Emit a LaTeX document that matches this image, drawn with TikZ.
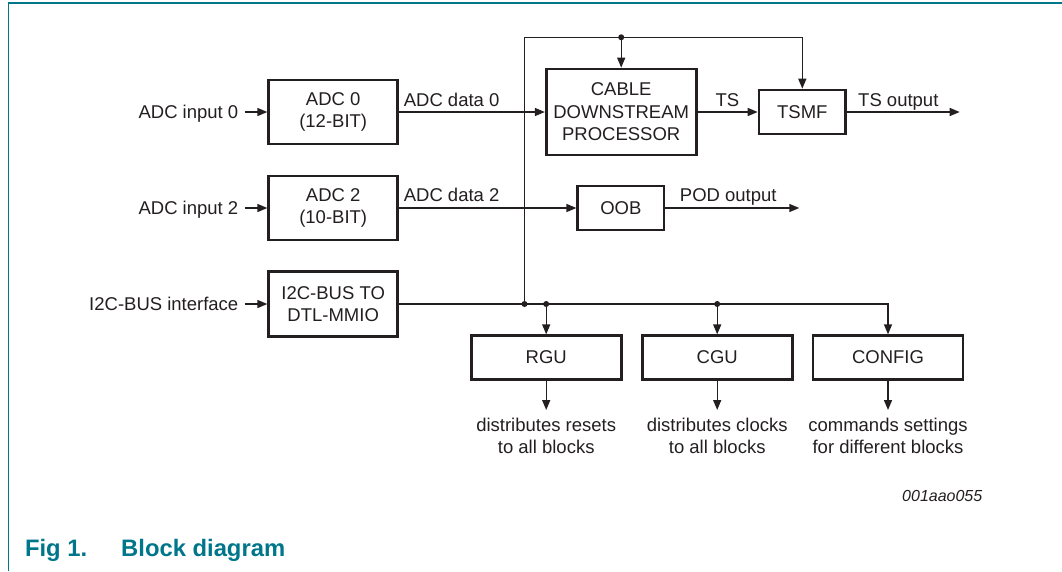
\documentclass[tikz,border=0pt]{standalone}
\usepackage{fontspec}
\setmainfont{Liberation Sans}
\usetikzlibrary{arrows.meta}
\definecolor{teal1}{RGB}{0,118,138}
\definecolor{ink}{RGB}{35,31,32}
\begin{document}
\begin{tikzpicture}[x=1pt,y=-1pt,
  font=\fontsize{18.5}{22.4}\selectfont,
  every node/.style={text=ink},
  blk/.style={draw=ink, line width=2.7pt, align=center, inner sep=0pt},
  conn/.style={draw=ink, line width=1.4pt},
  arr/.style={conn, -{Triangle[length=10pt,width=8pt]}},
  lbl/.style={inner sep=0pt, text height=13.3pt, text depth=0pt},
  inlbl/.style={lbl, anchor=east, inner xsep=6pt},
  txt/.style={anchor=base west, inner sep=0pt},
  desc/.style={align=center, inner sep=0pt, anchor=north},
  dot/.style={circle, fill=ink, inner sep=0pt, minimum size=6pt},
  captionstyle/.style={anchor=base west, inner sep=0pt, text=teal1, font=\fontsize{23.8}{28}\selectfont\bfseries},
]
\useasboundingbox (0,0) rectangle (1062,571);
\draw[teal1, line width=1.6pt] (8.3,571) -- (8.3,2.7) -- (1062,2.7);

% blocks
\node[blk, minimum width=129pt, minimum height=64pt] (adc0) at (333.2,112) {ADC 0\\(12-BIT)};
\node[blk, minimum width=129pt, minimum height=64pt] (adc2) at (333.2,208) {ADC 2\\(10-BIT)};
\node[blk, minimum width=129pt, minimum height=65pt] (i2c) at (333.2,304) {I2C-BUS TO\\DTL-MMIO};
\node[blk, minimum width=150pt, minimum height=86pt] (cdp) at (621.2,112) {CABLE\\DOWNSTREAM\\PROCESSOR};
\node[blk, minimum width=86.6pt, minimum height=44pt] (tsmf) at (802.3,112) {TSMF};
\node[blk, minimum width=86.3pt, minimum height=44pt] (oob) at (620.9,208) {OOB};
\node[blk, minimum width=150pt, minimum height=43.6pt] (rgu) at (546.2,357.5) {RGU};
\node[blk, minimum width=150pt, minimum height=43.6pt] (cgu) at (717.2,357.5) {CGU};
\node[blk, minimum width=150pt, minimum height=43.6pt] (config) at (888,357.5) {CONFIG};

% input labels
\node[inlbl] (in0) at (244.5,112) {ADC input 0};
\node[inlbl] (in2) at (244.5,208) {ADC input 2};
\node[inlbl] (ini2c) at (244.5,304) {I2C-BUS interface};

% coordinates
\coordinate (j0) at (524.5,304);
\coordinate (j1) at (546.2,304);
\coordinate (j2) at (717.2,304);
\coordinate (jc) at (888,304);
\coordinate (tl) at (524.5,37.3);
\coordinate (jt) at (621.2,37.3);
\coordinate (tr) at (802.3,37.3);
\coordinate (tsout) at (959.7,112);
\coordinate (podout) at (799.3,208);

% connectors
\draw[arr] (in0.east) -- (in0.east -| adc0.west);
\draw[arr] (in2.east) -- (in2.east -| adc2.west);
\draw[arr] (ini2c.east) -- (ini2c.east -| i2c.west);
\draw[arr] (adc0) -- (cdp);
\draw[arr] (adc2) -- (oob);
\draw[arr] (cdp) -- (tsmf);
\draw[arr] (tsmf) -- (tsout);
\draw[arr] (oob) -- (podout);
\draw[arr] (i2c.east) -- (jc) -- (config.north);
\draw[arr] (j0) -- (tl) -- (tr) -- (tsmf.north);
\draw[arr] (jt) -- (cdp.north);
\draw[arr] (j1) -- (rgu.north);
\draw[arr] (j2) -- (cgu.north);
\node[dot] (d0) at (j0) {};
\node[dot] (d1) at (j1) {};
\node[dot] (d2) at (j2) {};
\node[dot] (dt) at (jt) {};

% descriptions
\node[desc] (rgut) at (546.2,417.4) {distributes resets\\to all blocks};
\node[desc] (cgut) at (717.2,417.4) {distributes clocks\\to all blocks};
\node[desc] (configt) at (888,417.4) {commands settings\\for different blocks};
\draw[arr, shorten >=7.4pt] (rgu) -- (rgut);
\draw[arr, shorten >=7.4pt] (cgu) -- (cgut);
\draw[arr, shorten >=7.4pt] (config) -- (configt);

% line labels
\node[txt] (ld0) at (403.6,106.7) {ADC data 0};
\node[txt] (ld2) at (403.6,201.7) {ADC data 2};
\node[anchor=base, inner sep=0pt] (lts) at (727.4,106.7) {TS};
\node[txt] (ltso) at (858,106) {TS output};
\node[txt] (lpod) at (679.7,201.7) {POD output};
\node[txt, font=\fontsize{16}{19}\selectfont\itshape] (code) at (902,501) {001aao055};

% caption
\node[captionstyle] (fig) at (24.8,556.7) {Fig 1.};
\node[captionstyle] (captxt) at (121,556.7) {Block diagram};
\end{tikzpicture}
\end{document}
